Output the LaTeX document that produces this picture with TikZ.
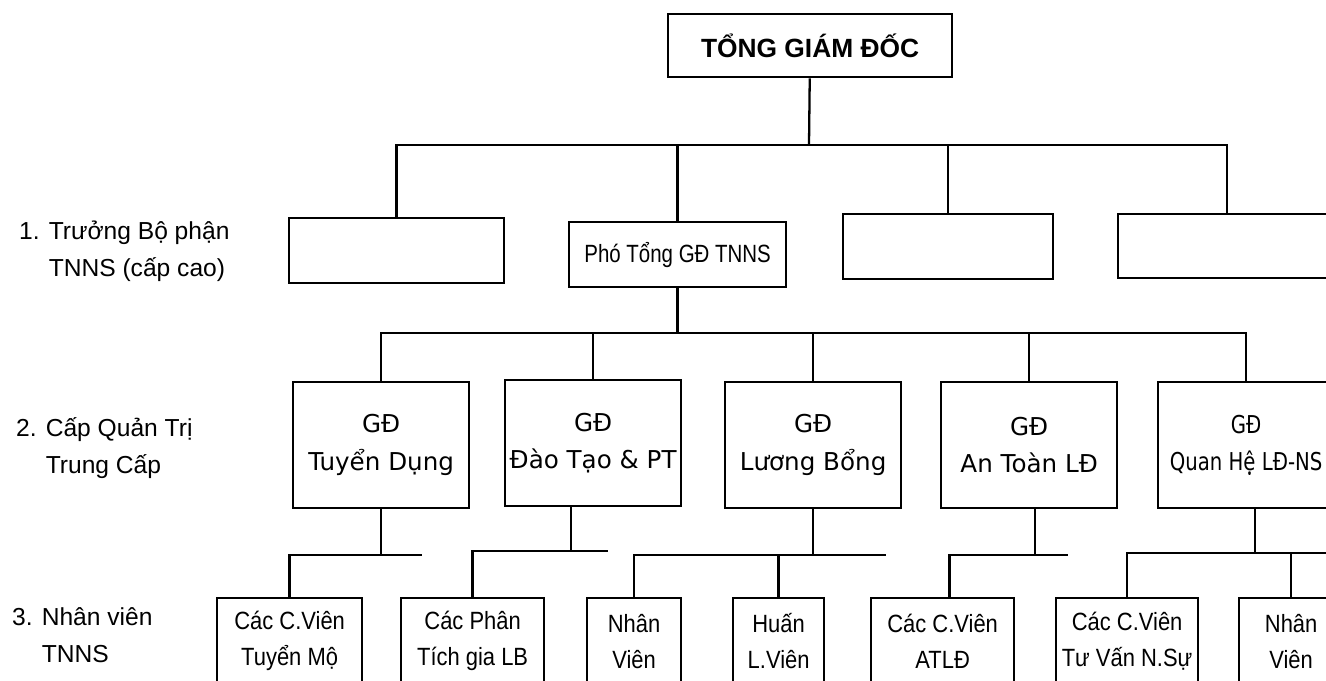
\documentclass[tikz,border=0pt]{standalone}
\usepackage{fontspec}
\setmainfont{Liberation Sans}
\newfontfamily\narrowfont[FakeStretch=0.88]{Liberation Sans}
\newfontfamily\slimfont[FakeStretch=0.82]{Liberation Sans}
\newfontfamily\widefont{DejaVu Sans}
\newfontfamily\tightfont[FakeStretch=0.8]{DejaVu Sans}
\usetikzlibrary{positioning,calc}

\begin{document}
\begin{tikzpicture}[
  x=0.02cm, y=-0.02cm,
  every node/.style={line width=1.3pt, inner sep=0pt, align=center},
  boss/.style={draw, anchor=north west, minimum width=5.68cm, minimum height=1.26cm,
    font=\bfseries\fontsize{15}{18}\selectfont},
  head/.style={draw, anchor=north west, minimum width=4.3cm, minimum height=1.3cm,
    font=\slimfont\fontsize{14.2}{17}\selectfont},
  director/.style={draw, anchor=north west, minimum width=3.52cm, minimum height=2.52cm,
    font=\widefont\fontsize{14}{21.5}\selectfont},
  staff/.style={draw, anchor=north west, minimum height=1.72cm,
    font=\narrowfont\fontsize{14.2}{20.5}\selectfont},
  level/.style={anchor=west, align=left, font=\fontsize{14}{21}\selectfont},
  link/.style={line width=1.3pt}
]
\useasboundingbox (0,0) rectangle (1326,680);
\clip (0,0) rectangle (1326,680);
\node[boss] (ceo) at (667,13) {TỔNG GIÁM ĐỐC};

\node[head] (headA) at (288,217) {};
\node[head, minimum width=4.34cm] (pho) at (568,221) {Phó Tổng GĐ TNNS};
\node[head, minimum width=4.2cm, minimum height=1.3cm] (headC) at (842,213) {};
\node[head, minimum width=4.36cm, minimum height=1.28cm] (headD) at (1117,213) {};

\node[director] (td) at (292,381) {GĐ\\Tuyển Dụng};
\node[director] (dt) at (504,379) {GĐ\\Đào Tạo \& PT};
\node[director] (lb) at (724,381) {GĐ\\Lương Bổng};
\node[director] (at) at (940,381) {GĐ\\An Toàn LĐ};
\node[director, font=\tightfont\fontsize{14}{21.5}\selectfont] (qh) at (1157,381) {GĐ\\Quan Hệ LĐ-NS};

\node[staff, minimum width=2.9cm] (c1) at (216,597) {Các C.Viên\\Tuyển Mộ};
\node[staff, minimum width=2.86cm] (c2) at (400,597) {Các Phân\\Tích gia LB};
\node[staff, minimum width=1.88cm] (c3) at (586,597) {Nhân\\Viên};
\node[staff, minimum width=1.82cm] (c4) at (732,597) {Huấn\\L.Viên};
\node[staff, minimum width=2.86cm] (c5) at (870,597) {Các C.Viên\\ATLĐ};
\node[staff, minimum width=2.84cm] (c6) at (1055,597) {Các C.Viên\\Tư Vấn N.Sự};
\node[staff, minimum width=2.08cm] (c7) at (1238,597) {Nhân\\Viên};

\node[level] (lv1) at (18,251) {1. Trưởng Bộ phận\\\phantom{1. }TNNS (cấp cao)};
\node[level] (lv2) at (15,448) {2. Cấp Quản Trị\\\phantom{2. }Trung Cấp};
\node[level] (lv3) at (11,635) {3. Nhân viên\\\phantom{3. }TNNS};

\coordinate (bus1) at (809,145);
\coordinate (bus2) at (677,333);
\coordinate (tdend) at (422,555);
\coordinate (dtend) at (608,551);
\coordinate (lbend) at (886,555);
\coordinate (atend) at (1068,555);
\coordinate (qhend) at (1340,553);

\draw[link] (ceo) -- (bus1);
\draw[link] (headA.north) |- (bus1) -| (headD.north);
\draw[link] (pho.north) -- (pho.north |- bus1);
\draw[link] (headC.north) -- (headC.north |- bus1);

\draw[link] (pho.south) -- (pho.south |- bus2);
\draw[link] (td.north) |- (bus2) -| (qh.north);
\draw[link] (dt.north) -- (dt.north |- bus2);
\draw[link] (lb.north) -- (lb.north |- bus2);
\draw[link] (at.north) -- (at.north |- bus2);

\draw[link] (td.south) -- (td.south |- tdend);
\draw[link] (c1.north) |- (tdend);
\draw[link] ($(dt.south)+(-22,0)$) -- ($(dt.south |- dtend)+(-22,0)$);
\draw[link] (c2.north) |- (dtend);
\draw[link] (lb.south) -- (lb.south |- lbend);
\draw[link] (c3.north) |- (lbend);
\draw[link] (c4.north) -- (c4.north |- lbend);
\draw[link] ($(at.south)+(6,0)$) -- ($(at.south |- atend)+(6,0)$);
\draw[link] ($(c5.north)+(7,0)$) |- (atend);
\draw[link] ($(qh.south)+(9,0)$) -- ($(qh.south |- qhend)+(9,0)$);
\draw[link] (c6.north) |- (qhend);
\draw[link] (c7.north) -- (c7.north |- qhend);
\end{tikzpicture}
\end{document}
